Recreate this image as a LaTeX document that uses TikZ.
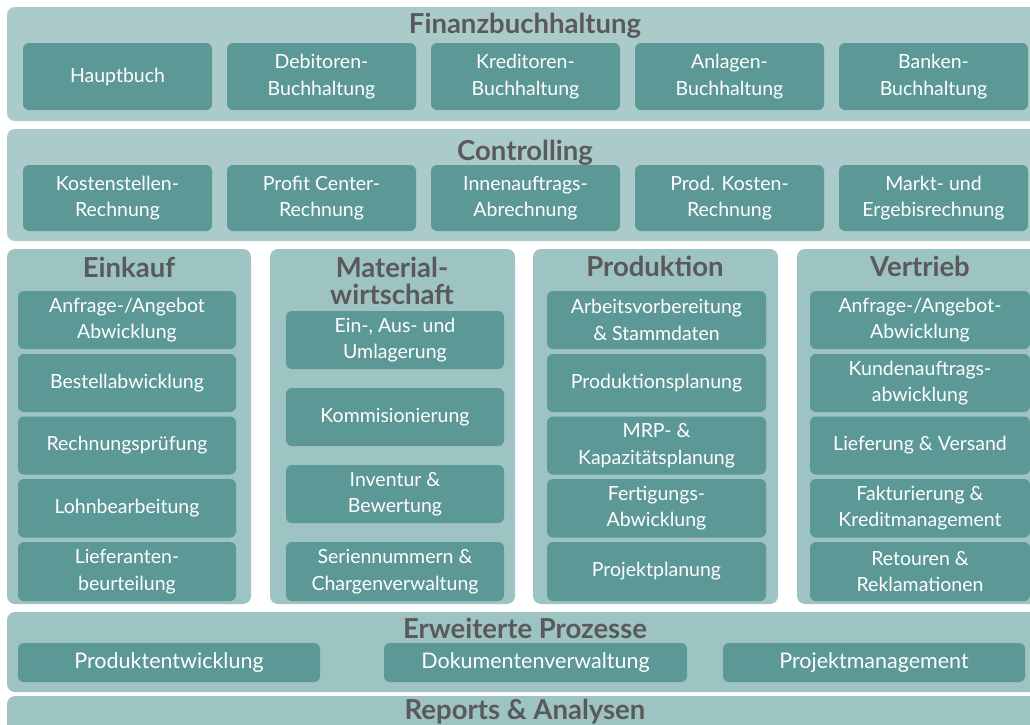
\documentclass[tikz,border=0pt]{standalone}
\usepackage{fontspec}
\setmainfont{Lato}
\definecolor{panelA}{RGB}{171,203,202}
\definecolor{panelB}{RGB}{157,195,194}
\definecolor{boxc}{RGB}{91,152,150}
\definecolor{titlec}{RGB}{90,90,90}
\tikzset{
  panelbox/.style={fill=panelB, rounded corners=8pt, inner sep=0pt, outer sep=0pt},
  toppanel/.style={panelbox, fill=panelA},
  itembox/.style={fill=boxc, rounded corners=6pt, inner sep=0pt, outer sep=0pt, text=white, align=center, font=\fontsize{19.5}{26.5}\selectfont},
  widebox/.style={itembox, font=\fontsize{21.5}{26}\selectfont},
  titletext/.style={text=titlec, font=\fontsize{27.5}{27}\selectfont\bfseries, inner sep=0pt, anchor=base, align=center},
}
\newcommand\rbox[6]{\node[#1, minimum width={(#4-#2)*1pt}, minimum height={(#5-#3)*1pt}] (#6) at ({(#2+#4)/2},{(#3+#5)/2})}
\begin{document}
\begin{tikzpicture}[x={(1pt,0)}, y={(0,-1pt)}]
\useasboundingbox (0,0) rectangle (1030,724);
\clip (0,0) rectangle (1030,724);
% panels
\rbox{toppanel}{7}{7}{1044}{121}{pfb} {};
\rbox{toppanel}{7}{129}{1044}{241}{pct} {};
\rbox{panelbox}{7}{249}{251}{604}{pek} {};
\rbox{panelbox}{270}{249}{515}{604}{pmw} {};
\rbox{panelbox}{533}{249}{778}{604}{ppr} {};
\rbox{panelbox}{797}{249}{1044}{604}{pvt} {};
\rbox{panelbox}{7}{612}{1044}{692}{pep} {};
\rbox{panelbox}{7}{696}{1044}{750}{pra} {};
% titles
\node[titletext] (tfb) at (525,33) {Finanzbuchhaltung};
\node[titletext] (tct) at (525,160) {Controlling};
\node[titletext] (tek) at (129,277) {Einkauf};
\node[titletext, anchor=center] (tmw) at (392,281) {Material-\\wirtschaft};
\node[titletext] (tpr) at (655,276) {Produktion};
\node[titletext] (tvt) at (920,276) {Vertrieb};
\node[titletext] (tep) at (525,638) {Erweiterte Prozesse};
\node[titletext] (tra) at (525,719) {Reports \& Analysen};
% Finanzbuchhaltung
\rbox{itembox}{23}{43}{212}{110}{fb1} {Hauptbuch};
\rbox{itembox}{227}{43}{416}{110}{fb2} {Debitoren-\\Buchhaltung};
\rbox{itembox}{431}{43}{620}{110}{fb3} {Kreditoren-\\Buchhaltung};
\rbox{itembox}{635}{43}{824}{110}{fb4} {Anlagen-\\Buchhaltung};
\rbox{itembox}{839}{43}{1028}{110}{fb5} {Banken-\\Buchhaltung};
% Controlling
\rbox{itembox}{23}{165}{212}{231}{ct1} {Kostenstellen-\\Rechnung};
\rbox{itembox}{227}{165}{416}{231}{ct2} {Profit Center-\\Rechnung};
\rbox{itembox}{431}{165}{620}{231}{ct3} {Innenauftrags-\\Abrechnung};
\rbox{itembox}{635}{165}{824}{231}{ct4} {Prod. Kosten-\\Rechnung};
\rbox{itembox}{839}{165}{1028}{231}{ct5} {Markt- und\\Ergebisrechnung};
% Einkauf
\rbox{itembox}{18}{291}{236}{349}{ek1} {Anfrage-/Angebot\\Abwicklung};
\rbox{itembox}{18}{354}{236}{412}{ek2} {Bestellabwicklung};
\rbox{itembox}{18}{416.5}{236}{474.5}{ek3} {Rechnungsprüfung};
\rbox{itembox}{18}{479}{236}{537.5}{ek4} {Lohnbearbeitung};
\rbox{itembox}{18}{542}{236}{601}{ek5} {Lieferanten-\\beurteilung};
% Materialwirtschaft
\rbox{itembox}{286}{311}{504}{369}{mw1} {Ein-, Aus- und\\Umlagerung};
\rbox{itembox}{286}{388}{504}{446}{mw2} {Kommisionierung};
\rbox{itembox}{286}{465}{504}{523}{mw3} {Inventur \&\\Bewertung};
\rbox{itembox}{286}{542}{504}{601}{mw4} {Seriennummern \&\\Chargenverwaltung};
% Produktion
\rbox{itembox}{547}{291}{766}{349}{pr1} {Arbeitsvorbereitung\\\& Stammdaten};
\rbox{itembox}{547}{354}{766}{412}{pr2} {Produktionsplanung};
\rbox{itembox}{547}{416.5}{766}{474.5}{pr3} {MRP- \&\\Kapazitätsplanung};
\rbox{itembox}{547}{479}{766}{537.5}{pr4} {Fertigungs-\\Abwicklung};
\rbox{itembox}{547}{542}{766}{601}{pr5} {Projektplanung};
% Vertrieb
\rbox{itembox}{810}{291}{1030}{349}{vt1} {Anfrage-/Angebot-\\Abwicklung};
\rbox{itembox}{810}{354}{1030}{412}{vt2} {Kundenauftrags-\\abwicklung};
\rbox{itembox}{810}{416.5}{1030}{474.5}{vt3} {Lieferung \& Versand};
\rbox{itembox}{810}{479}{1030}{537.5}{vt4} {Fakturierung \&\\Kreditmanagement};
\rbox{itembox}{810}{542}{1030}{601}{vt5} {Retouren \&\\Reklamationen};
% Erweiterte Prozesse
\rbox{widebox}{18}{643}{320}{682}{ep1} {Produktentwicklung};
\rbox{widebox}{384}{643}{687}{682}{ep2} {Dokumentenverwaltung};
\rbox{widebox}{723}{643}{1025}{682}{ep3} {Projektmanagement};
\end{tikzpicture}
\end{document}
